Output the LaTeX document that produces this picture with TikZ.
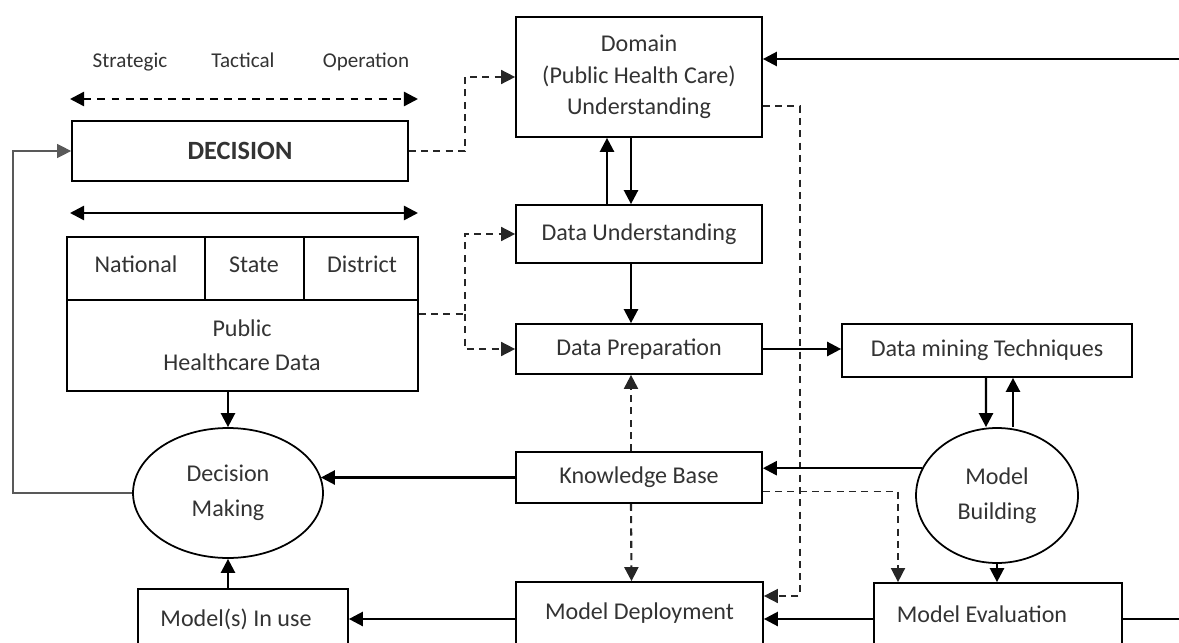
\documentclass[tikz,border=0pt]{standalone}
\usepackage{fontspec}
\setmainfont{Carlito}
\usetikzlibrary{arrows.meta,shapes.geometric,calc}
\definecolor{txt}{gray}{0.2}
\tikzset{
  box/.style={draw, line width=1pt, rectangle, inner sep=0pt, text=txt, align=center, font=\fontsize{13.7}{18}\selectfont},
  oval/.style={draw, line width=1pt, ellipse, inner sep=0pt, text=txt, align=center, font=\fontsize{13.7}{20}\selectfont},
  inlbl/.style={text=txt, font=\fontsize{13.7}{18}\selectfont, align=center},
  cell/.style={inlbl, text height=1.55ex, text depth=0.45ex},
  toplbl/.style={text=txt, font=\fontsize{12}{14}\selectfont, text height=1.55ex, text depth=0.45ex},
  tip/.style={-{Triangle[length=8pt,width=8pt]}},
  arr/.style={line width=1.4pt, tip},
  darr/.style={line width=0.9pt, draw=black!85, dash pattern=on 4pt off 3pt, tip},
  fb/.style={line width=0.7pt, draw=black!65, -{Triangle[length=8pt,width=8pt]}}
}
\begin{document}
\begin{tikzpicture}[x=0.02cm,y=-0.02cm]
\useasboundingbox (0,0) rectangle (1179,642);
\clip (0,0) rectangle (1179,642);

% top labels and scope arrows
\node[toplbl] (st) at (130,63) {Strategic};
\node[toplbl] (ta) at (243,63) {Tactical};
\node[toplbl] (op) at (366,63) {Operation};
\coordinate (da1) at (70,99);
\coordinate (da2) at (418,99);
\draw[line width=1.4pt, dash pattern=on 4.5pt off 3.5pt, {Triangle[length=8pt,width=8pt]}-{Triangle[length=8pt,width=8pt]}] (da1) -- (da2);
\coordinate (sa1) at (70,213);
\coordinate (sa2) at (418,213);
\draw[line width=1.4pt, {Triangle[length=8pt,width=8pt]}-{Triangle[length=8pt,width=8pt]}] (sa1) -- (sa2);

% boxes
\node[box, minimum width=6.72cm, minimum height=1.2cm, font=\bfseries\fontsize{15}{18}\selectfont] (dec) at (240,151) {DECISION};
\node[box, minimum width=4.92cm, minimum height=2.4cm] (dom) at (639,77) {Domain\\(Public Health Care)\\Understanding};
\node[box, minimum width=4.92cm, minimum height=1.16cm] (du) at (639,234) {Data Understanding};
\node[box, minimum width=4.92cm, minimum height=1.0cm] (dp) at (639,349) {Data Preparation};
\node[box, minimum width=5.8cm, minimum height=1.06cm] (dmt) at (987,350.5) {Data mining Techniques};
\node[box, minimum width=4.92cm, minimum height=1.02cm] (kb) at (639,477.5) {Knowledge Base};
\node[box, minimum width=4.94cm, minimum height=2.36cm,
      label={[inlbl, yshift=0.56cm]center:Model Deployment}] (md) at (639.5,641) {};
\node[box, minimum width=4.96cm, minimum height=2.36cm,
      label={[inlbl, xshift=-0.32cm, yshift=0.56cm]center:Model Evaluation}] (me) at (998,642) {};
\node[box, minimum width=4.2cm, minimum height=2.36cm,
      label={[inlbl, xshift=-0.14cm, yshift=0.58cm]center:Model(s) In use}] (miu) at (243,648) {};

% public healthcare data table
\node[box, minimum width=7.02cm, minimum height=3.08cm] (phd) at (242.5,314) {};
\coordinate (hdiv) at (0,300);
\draw[line width=1pt] (phd.west |- hdiv) -- (phd.east |- hdiv);
\coordinate (v1) at (205,300);
\coordinate (v2) at (304,300);
\draw[line width=1pt] (v1) -- (v1 |- phd.north);
\draw[line width=1pt] (v2) -- (v2 |- phd.north);
\node[cell] (nat) at (136,268) {National};
\node[cell] (sta) at (254,268) {State};
\node[cell] (dis) at (362,268) {District};
\node[inlbl, font=\fontsize{13.7}{19.5}\selectfont] (pub) at (242,345) {Public\\Healthcare Data};

% ellipses
\node[oval, minimum width=3.8cm, minimum height=2.6cm] (dm) at (228,493) {Decision\\Making};
\node[oval, minimum width=3.24cm, minimum height=2.7cm] (mb) at (997,495.5) {Model\\Building};

% helper coordinates
\coordinate (j1) at (465,0);
\coordinate (j2) at (800,0);
\coordinate (j3) at (13,0);
\coordinate (j4) at (898,0);
\coordinate (rin) at (1179,59);
\coordinate (rout) at (1179,619);
\coordinate (row) at (0,619);
\coordinate (row2) at (0,596);

% connectors
\draw[arr] (rin) -- (rin -| dom.east);
\draw[darr] (dec.east) -| (j1 |- dom.west) -- (dom.west);
\draw[darr] (phd.east) -| (j1 |- du.west) -- (du.west);
\draw[darr] (j1 |- phd.east) |- (dp.west);
\draw[arr] ([xshift=-0.64cm]du.north) -- ([xshift=-0.64cm]dom.south);
\draw[arr] ([xshift=-0.16cm]dom.south) -- ([xshift=-0.16cm]du.north);
\draw[arr] ([xshift=-0.16cm]du.south) -- ([xshift=-0.16cm]dp.north);
\draw[darr] ([yshift=-0.58cm]dom.east) -| (j2 |- row2) -- (md.east |- row2);
\draw[arr] (dp.east) -- (dmt.west |- dp.east);
\draw[arr] ([xshift=-0.02cm]dmt.south) -- ([xshift=-0.22cm]mb.north);
\draw[arr] ([xshift=0.32cm]mb.north) -- ([xshift=0.32cm]mb.north |- dmt.south);
\draw[arr] (mb.160) -- (kb.east |- mb.160);
\draw[arr] (kb.west) -- (kb.west -| dm.10);
\draw[darr, line width=1.2pt] ([xshift=-0.16cm]kb.north) -- ([xshift=-0.16cm]dp.south);
\draw[darr, line width=1.2pt] ([xshift=-0.16cm]kb.south) -- ([xshift=-0.16cm]md.north);
\draw[darr] ([yshift=-0.28cm]kb.east) -| (j4 |- me.north);
\draw[arr] (mb.south) -- (mb.south |- me.north);
\draw[arr] (me.west |- row) -- (md.east |- row);
\draw[arr] (md.west |- row) -- (miu.east |- row);
\draw[line width=1.4pt] (me.east |- row) -- (rout);
\draw[arr] (phd.south -| dm.north) -- (dm.north);
\draw[arr] (miu.north -| dm.south) -- (dm.south);
\draw[fb] (dm.west) -| (j3 |- dec.west) -- (dec.west);
\end{tikzpicture}
\end{document}
